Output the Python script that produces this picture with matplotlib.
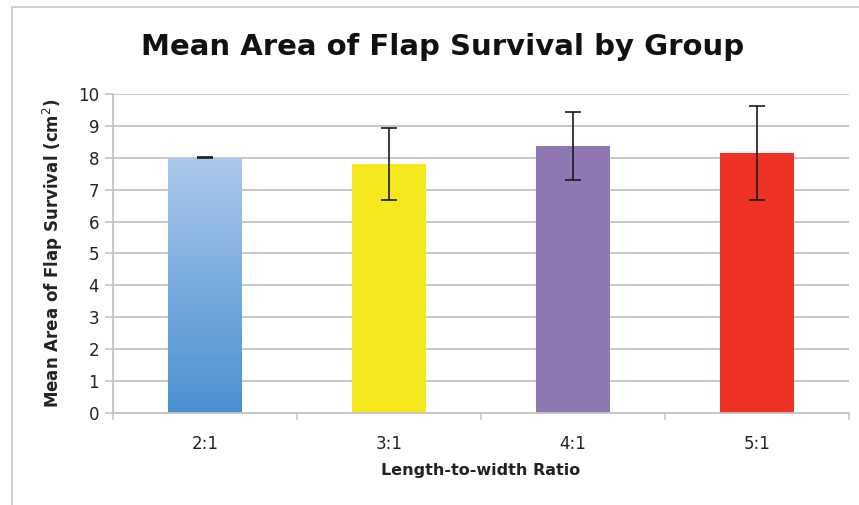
import matplotlib
matplotlib.use("Agg")
import matplotlib.pyplot as plt
import numpy as np
from matplotlib.patches import Rectangle

groups = ["2:1", "3:1", "4:1", "5:1"]
means = [8.0, 7.8, 8.37, 8.15]
errs = [0.02, 1.12, 1.06, 1.47]
colors = ["#7fb0e0", "#f6e81e", "#8f77b1", "#ee3325"]

grid_col = "#c4c4c4"

fig = plt.figure(figsize=(8.59, 5.05), dpi=100)
ax = fig.add_axes([113 / 859, 92 / 505, 736 / 859, 319 / 505])

x = np.arange(len(groups))
bars = ax.bar(x, means, width=0.4, color=colors, zorder=2)

# gradient fill for the first bar
b = bars[0]
b.set_facecolor("none")
grad = np.linspace(0, 1, 256).reshape(-1, 1)
cmap = matplotlib.colors.LinearSegmentedColormap.from_list("blu", ["#4a8fd1", "#abc9ea"])
im = ax.imshow(grad, cmap=cmap, origin="lower", aspect="auto", zorder=2,
               extent=[b.get_x(), b.get_x() + b.get_width(), 0, b.get_height()])
im.set_clip_path(b)

ax.errorbar(x, means, yerr=errs, fmt="none", ecolor="#1a1a1a", elinewidth=1.2,
            capsize=5.5, capthick=1.2, zorder=3)

ax.set_xlim(-0.5, 3.5)
ax.set_ylim(0, 10)
ax.set_yticks(range(0, 11))
ax.yaxis.grid(True, color=grid_col, linewidth=1.3, zorder=0)
ax.set_axisbelow(True)

ax.set_xticks(x)
ax.set_xticklabels(groups, fontsize=12, color="#222222")
ax.set_xticks(np.arange(-0.5, 4, 1), minor=True)
ax.tick_params(axis="x", which="major", length=0, pad=16)
ax.tick_params(axis="x", which="minor", length=5, color=grid_col, width=1.2)
ax.tick_params(axis="y", length=6, color=grid_col, width=1.2, labelsize=12,
               labelcolor="#222222", pad=4)

for s in ["top", "right"]:
    ax.spines[s].set_visible(False)
for s in ["left", "bottom"]:
    ax.spines[s].set_color(grid_col)
    ax.spines[s].set_linewidth(1.3)

ax.set_xlabel("Length-to-width Ratio", fontsize=11.5, fontweight="bold", labelpad=7,
              color="#222222")
ax.set_ylabel("Mean Area of Flap Survival (cm$^2$)", fontsize=12, fontweight="bold",
              labelpad=9, color="#222222")

fig.text(443 / 859, 458 / 505, "Mean Area of Flap Survival by Group",
         fontsize=21, fontweight="bold", ha="center", va="center", color="#111111")

# frame around the chart
fig.patches.append(Rectangle((12 / 859, -0.1), 1.2, 1.1 - 7 / 505,
                             transform=fig.transFigure, fill=False,
                             edgecolor="#c8c8c8", linewidth=1.2))

fig.savefig("out.png", dpi=100)
